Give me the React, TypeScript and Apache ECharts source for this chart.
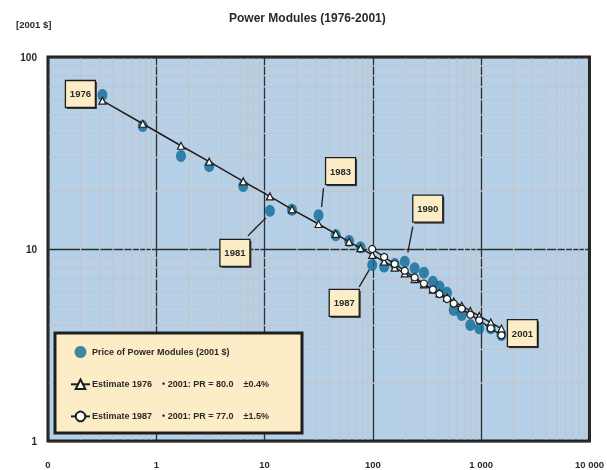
import React, { useEffect, useRef } from "react";
import * as echarts from "echarts";

// Years of the observations
const years = [
  1976, 1977, 1978, 1979, 1980, 1981, 1982, 1983, 1984, 1985, 1986, 1987, 1988,
  1989, 1990, 1991, 1992, 1993, 1994, 1995, 1996, 1997, 1998, 1999, 2000, 2001,
];
// Cumulative production (x, log scale)
const cumulative = [
  0.318, 0.75, 1.69, 3.08, 6.35, 11.2, 17.9, 31.5, 45.4, 60.3, 76.9, 98.6, 127,
  159, 197, 243, 296, 358, 412, 484, 558, 661, 794, 960, 1227, 1538,
];
// Price of power modules (2001 $)
const price = [
  63.4, 43.7, 30.5, 27.0, 21.3, 15.8, 16.0, 15.0, 11.8, 11.0, 10.2, 8.26, 8.09,
  8.36, 8.59, 7.93, 7.53, 6.76, 6.37, 5.92, 4.81, 4.53, 4.02, 3.86, 3.86, 3.56,
];
// Estimate 1976-2001 (PR = 80.0)
const estimate1976 = [
  59.2, 44.9, 34.5, 28.5, 22.5, 18.8, 16.1, 13.5, 12.0, 10.9, 10.1, 9.33, 8.59,
  8.0, 7.46, 6.97, 6.55, 6.15, 5.88, 5.58, 5.33, 5.06, 4.76, 4.48, 4.14, 3.85,
];
// Estimate 1987-2001 (PR = 77.0)
const estimate1987 = [
  null, null, null, null, null, null, null, null, null, null, null, 10.0, 9.09,
  8.35, 7.71, 7.11, 6.61, 6.15, 5.83, 5.49, 5.2, 4.89, 4.55, 4.25, 3.86, 3.55,
];

const seriesNames = [
  "Price of Power Modules (2001 $)",
  "Estimate 1976",
  "Estimate 1987",
];
const legendTexts = [
  "Price of Power Modules (2001 $)",
  "Estimate 1976    \u2022 2001: PR = 80.0    \u00b10.4%",
  "Estimate 1987    \u2022 2001: PR = 77.0    \u00b11.5%",
];

const xTickLabels: Record<string, string> = {
  "-1": "0",
  "0": "1",
  "1": "10",
  "2": "100",
  "3": "1 000",
  "4": "10 000",
};
const yTickLabels: Record<string, string> = { "0": "1", "1": "10", "2": "100" };

// Labelled years: box centre offset and optional leader line (relative to point)
const callouts = [
  { year: 1976, dx: -22, dy: -1, leader: null as null | number[] },
  { year: 1981, dx: -35, dy: 42, leader: [-22, 25, -4, 7] },
  { year: 1983, dx: 22, dy: -44, leader: [5, -27, 3, -8] },
  { year: 1987, dx: -28, dy: 38, leader: [-13, 22, -3, 5] },
  { year: 1990, dx: 23, dy: -53, leader: [8, -35, 3, -9] },
  { year: 2001, dx: 21, dy: -2, leader: null as null | number[] },
];

const FONT = "'Liberation Sans', Arial, sans-serif";
const INK = "#1e1e1e";
const TXT = "#2a2a2a";
const CREAM = "#fdedc6";
const MINOR = "#c3c6cc";

export default function App() {
  const ref = useRef<HTMLDivElement>(null);

  useEffect(() => {
    if (!ref.current) return;
    const chart = echarts.init(ref.current, null, { renderer: "svg" });

    const markerStyle = {
      color: "#ffffff",
      borderColor: INK,
      borderWidth: 1.2,
    };

    chart.setOption({
      animation: false,
      title: {
        text: "Power Modules (1976-2001)",
        left: 224,
        top: 7,
        textStyle: {
          fontFamily: FONT,
          fontWeight: "bold",
          fontSize: 12,
          color: TXT,
        },
      },
      grid: {
        left: 48,
        right: 14,
        top: 57,
        bottom: 29,
        show: true,
        backgroundColor: "#b5d0e7",
        borderColor: INK,
        borderWidth: 3,
      },
      xAxis: {
        type: "log",
        logBase: 10,
        min: 0.1,
        max: 10000,
        splitNumber: 5,
        axisLine: { show: false },
        axisTick: { show: false },
        splitLine: { show: true, lineStyle: { color: "#2e2e2e", width: 1.3 } },
        axisLabel: {
          margin: 18,
          fontFamily: FONT,
          fontWeight: "bold",
          fontSize: 9.5,
          color: TXT,
          formatter: (v: number) =>
            xTickLabels[String(Math.round(Math.log10(v)))] ?? "",
        },
      },
      yAxis: {
        type: "log",
        logBase: 10,
        min: 1,
        max: 100,
        splitNumber: 2,
        axisLine: { show: false },
        axisTick: { show: false },
        splitLine: { show: true, lineStyle: { color: "#2e2e2e", width: 1.3 } },
        axisLabel: {
          margin: 11,
          fontFamily: FONT,
          fontWeight: "bold",
          fontSize: 10,
          color: TXT,
          formatter: (v: number) =>
            yTickLabels[String(Math.round(Math.log10(v)))] ?? "",
        },
      },
      legend: {
        data: seriesNames,
        orient: "vertical",
        left: 65,
        top: 341,
        itemWidth: 19,
        itemHeight: 12,
        itemGap: 20.5,
        z: 20,
        selectedMode: false,
        formatter: (name: string) => legendTexts[seriesNames.indexOf(name)],
        textStyle: {
          fontFamily: FONT,
          fontWeight: "bold",
          fontSize: 9,
          color: TXT,
          padding: [0, 0, 0, -3],
        },
      },
      series: [
        {
          name: seriesNames[0],
          type: "scatter",
          z: 3,
          symbol: "circle",
          symbolSize: [10, 12],
          itemStyle: { color: "#0d6c98" },
          data: cumulative.map((x, i) => [x, price[i]]),
        },
        {
          name: seriesNames[1],
          type: "line",
          z: 4,
          symbol: "triangle",
          symbolSize: 7,
          showAllSymbol: true,
          itemStyle: markerStyle,
          lineStyle: { color: INK, width: 1.5 },
          data: cumulative.map((x, i) => [x, estimate1976[i]]),
        },
        {
          name: seriesNames[2],
          type: "line",
          z: 5,
          symbol: "circle",
          symbolSize: 7,
          showAllSymbol: true,
          itemStyle: markerStyle,
          lineStyle: { color: INK, width: 1.5 },
          data: cumulative
            .map((x, i) => [x, estimate1987[i]])
            .filter((p) => p[1] !== null),
        },
      ],
    });

    // Minor log grid lines (2..9 within each decade), placed with the axes' scales
    const xPix = (v: number) =>
      chart.convertToPixel({ xAxisIndex: 0 }, v) as number;
    const yPix = (v: number) =>
      chart.convertToPixel({ yAxisIndex: 0 }, v) as number;
    const gx0 = xPix(0.1);
    const gx1 = xPix(10000);
    const gy0 = yPix(100);
    const gy1 = yPix(1);

    const elements: any[] = [];
    [0.1, 1, 10, 100, 1000].forEach((d) => {
      for (let k = 2; k <= 9; k++) {
        const x = xPix(d * k);
        elements.push({
          type: "line",
          z: 1,
          silent: true,
          shape: { x1: x, y1: gy0 + 1.5, x2: x, y2: gy1 - 1.5 },
          style: { stroke: MINOR, lineWidth: 1.3 },
        });
      }
    });
    [1, 10].forEach((d) => {
      for (let k = 2; k <= 9; k++) {
        const y = yPix(d * k);
        elements.push({
          type: "line",
          z: 1,
          silent: true,
          shape: { x1: gx0 + 1.5, y1: y, x2: gx1 - 1.5, y2: y },
          style: { stroke: MINOR, lineWidth: 1.3 },
        });
      }
    });

    elements.push(
      {
        type: "text",
        left: 16,
        top: 19,
        z: 10,
        style: {
          text: "[2001 $]",
          fontFamily: FONT,
          fontWeight: "bold",
          fontSize: 9.5,
          fill: TXT,
        },
      },
      {
        type: "rect",
        z: 10,
        shape: { x: 55, y: 333, width: 247, height: 100 },
        style: { fill: CREAM, stroke: INK, lineWidth: 3 },
      }
    );

    callouts.forEach((c) => {
      const i = years.indexOf(c.year);
      const p = chart.convertToPixel({ seriesIndex: 0 }, [
        cumulative[i],
        price[i],
      ]) as number[];
      const cx = p[0] + c.dx;
      const cy = p[1] + c.dy;
      const w = 30;
      const h = 27;
      if (c.leader) {
        elements.push({
          type: "line",
          z: 11,
          shape: {
            x1: p[0] + c.leader[0],
            y1: p[1] + c.leader[1],
            x2: p[0] + c.leader[2],
            y2: p[1] + c.leader[3],
          },
          style: { stroke: INK, lineWidth: 1.3 },
        });
      }
      elements.push({
        type: "rect",
        z: 11,
        shape: { x: cx - w / 2 + 1.5, y: cy - h / 2 + 1.5, width: w, height: h },
        style: { fill: "#3a3a3a" },
      });
      elements.push({
        type: "rect",
        z: 12,
        shape: { x: cx - w / 2, y: cy - h / 2, width: w, height: h },
        style: { fill: CREAM, stroke: INK, lineWidth: 1.3 },
      });
      elements.push({
        type: "text",
        z: 13,
        x: cx,
        y: cy,
        style: {
          text: String(c.year),
          align: "center",
          verticalAlign: "middle",
          fontFamily: FONT,
          fontWeight: "bold",
          fontSize: 9.5,
          fill: TXT,
        },
      });
    });

    chart.setOption({ graphic: { elements } });

    return () => chart.dispose();
  }, []);

  return (
    <div
      ref={ref}
      style={{ position: "fixed", left: 0, top: 0, width: 607, height: 470 }}
    />
  );
}
